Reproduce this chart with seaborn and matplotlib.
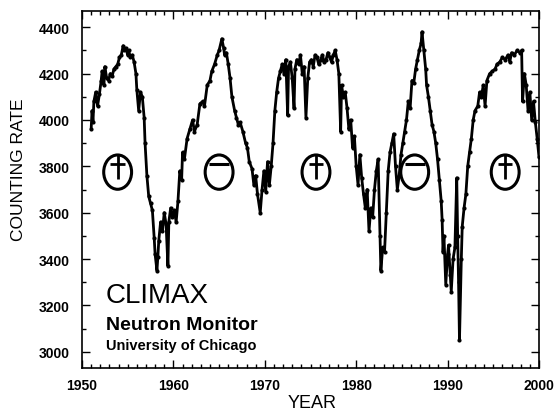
import numpy as np
import pandas as pd
import matplotlib
matplotlib.use("Agg")
import matplotlib.pyplot as plt
from matplotlib.patches import Ellipse
from matplotlib.ticker import MultipleLocator
import seaborn as sns

years = [
    1951.0, 1951.1, 1951.2, 1951.3, 1951.5, 1951.7, 1951.9, 1952.1, 1952.2, 1952.4,
    1952.5, 1952.7, 1952.9, 1953.1, 1953.3, 1953.5, 1953.7, 1953.9, 1954.1, 1954.3,
    1954.5, 1954.6, 1954.8, 1955.0, 1955.1, 1955.3, 1955.5, 1955.7, 1955.9, 1956.0,
    1956.2, 1956.4, 1956.6, 1956.8, 1956.9, 1957.1, 1957.3, 1957.5, 1957.7, 1957.9,
    1958.0, 1958.2, 1958.3, 1958.4, 1958.6, 1958.8, 1959.0, 1959.2, 1959.4, 1959.5,
    1959.7, 1959.9, 1960.1, 1960.3, 1960.5, 1960.7, 1960.9, 1961.0, 1961.2, 1961.5,
    1961.8, 1962.1, 1962.3, 1962.6, 1962.9, 1963.2, 1963.4, 1963.7, 1964.0, 1964.2,
    1964.5, 1964.8, 1965.0, 1965.3, 1965.5, 1965.6, 1965.8, 1966.0, 1966.2, 1966.4,
    1966.7, 1966.9, 1967.1, 1967.3, 1967.6, 1967.9, 1968.1, 1968.3, 1968.6, 1968.8,
    1969.0, 1969.2, 1969.5, 1969.7, 1969.9, 1970.1, 1970.3, 1970.5, 1970.7, 1970.9,
    1971.1, 1971.3, 1971.5, 1971.7, 1971.9, 1972.1, 1972.3, 1972.5, 1972.6, 1972.8,
    1973.0, 1973.2, 1973.3, 1973.5, 1973.7, 1973.9, 1974.1, 1974.3, 1974.5, 1974.7,
    1974.9, 1975.1, 1975.3, 1975.5, 1975.7, 1975.9, 1976.1, 1976.3, 1976.5, 1976.7,
    1976.9, 1977.1, 1977.3, 1977.5, 1977.7, 1977.9, 1978.1, 1978.3, 1978.4, 1978.6,
    1978.8, 1979.0, 1979.2, 1979.4, 1979.6, 1979.8, 1980.0, 1980.2, 1980.4, 1980.6,
    1980.8, 1981.0, 1981.2, 1981.4, 1981.6, 1981.8, 1982.0, 1982.2, 1982.4, 1982.6,
    1982.7, 1982.9, 1983.1, 1983.3, 1983.5, 1983.7, 1983.9, 1984.1, 1984.3, 1984.5,
    1984.7, 1984.9, 1985.1, 1985.3, 1985.5, 1985.7, 1985.9, 1986.1, 1986.3, 1986.5,
    1986.7, 1986.9, 1987.1, 1987.2, 1987.4, 1987.6, 1987.7, 1987.9, 1988.1, 1988.3,
    1988.5, 1988.7, 1988.9, 1989.1, 1989.3, 1989.4, 1989.5, 1989.6, 1989.8, 1990.0,
    1990.1, 1990.3, 1990.4, 1990.6, 1990.8, 1991.0, 1991.1, 1991.2, 1991.3, 1991.5,
    1991.6, 1991.8, 1992.0, 1992.2, 1992.4, 1992.6, 1992.8, 1993.0, 1993.3, 1993.5,
    1993.7, 1993.9, 1994.1, 1994.3, 1994.6, 1994.9, 1995.2, 1995.4, 1995.7, 1996.0,
    1996.3, 1996.6, 1996.8, 1997.0, 1997.3, 1997.6, 1997.9, 1998.1, 1998.2, 1998.4,
    1998.6, 1998.8, 1999.0, 1999.2, 1999.4, 1999.6, 1999.8, 2000.0,
]
counting_rate = [
    3960, 4040, 3990, 4080, 4120, 4060, 4110, 4170, 4210, 4150,
    4230, 4180, 4170, 4200, 4190, 4220, 4230, 4240, 4270, 4280,
    4320, 4300, 4310, 4280, 4300, 4270, 4280, 4250, 4200, 4130,
    4040, 4120, 4100, 4010, 3900, 3760, 3670, 3640, 3610, 3490,
    3420, 3350, 3410, 3480, 3560, 3520, 3600, 3550, 3370, 3560,
    3620, 3580, 3610, 3560, 3650, 3780, 3740, 3860, 3830, 3920,
    3960, 4000, 3950, 3980, 4070, 4080, 4060, 4150, 4170, 4210,
    4240, 4280, 4300, 4350, 4310, 4280, 4290, 4240, 4180, 4100,
    4040, 4010, 3980, 3990, 3950, 3900, 3880, 3820, 3790, 3720,
    3760, 3680, 3600, 3700, 3780, 3690, 3820, 3720, 3800, 3900,
    4040, 4120, 4180, 4210, 4240, 4200, 4260, 4020, 4230, 4250,
    4180, 4050, 4220, 4260, 4240, 4280, 4200, 4230, 4010, 4180,
    4250, 4260, 4230, 4280, 4270, 4240, 4260, 4280, 4250, 4260,
    4290, 4270, 4250, 4280, 4300, 4260, 4200, 3950, 4150, 4100,
    4120, 4050, 3960, 4000, 3880, 3930, 3800, 3720, 3850, 3750,
    3680, 3620, 3700, 3520, 3620, 3580, 3700, 3780, 3830, 3500,
    3350, 3450, 3430, 3600, 3780, 3860, 3900, 3940, 3800, 3700,
    3760, 3850, 3900, 3950, 4000, 4080, 4050, 4170, 4160, 4220,
    4260, 4300, 4330, 4380, 4300, 4220, 4150, 4100, 4040, 3980,
    3950, 3900, 3830, 3740, 3650, 3570, 3430, 3500, 3290, 3420,
    3460, 3330, 3260, 3400, 3450, 3750, 3500, 3300, 3050, 3400,
    3540, 3620, 3680, 3800, 3860, 3920, 4000, 4040, 4060, 4120,
    4100, 4150, 4060, 4170, 4200, 4210, 4220, 4240, 4250, 4270,
    4260, 4280, 4250, 4290, 4280, 4300, 4290, 4300, 4080, 4200,
    4150, 4040, 4120, 4000, 4080, 3990, 3920, 3840,
]

# Solar polarity symbols (year of centre, sign)
polarity_years = [1953.9, 1965.0, 1975.6, 1986.4, 1996.3]
polarity_signs = ["+", "-", "+", "-", "+"]

df = pd.DataFrame({"YEAR": years, "COUNTING RATE": counting_rate})

sns.set_style("ticks")
plt.rcParams["font.family"] = ["Liberation Sans", "DejaVu Sans"]
plt.rcParams["text.color"] = "black"
plt.rcParams["axes.labelcolor"] = "black"
plt.rcParams["xtick.color"] = "black"
plt.rcParams["ytick.color"] = "black"

fig = plt.figure(figsize=(5.56, 4.14), dpi=100)
ax = fig.add_axes([82 / 556, 1 - 369 / 414, (539 - 82) / 556, (369 - 12) / 414])

sns.lineplot(data=df, x="YEAR", y="COUNTING RATE", ax=ax, color="black",
             linewidth=2.0, marker="o", markersize=3.0, markeredgewidth=0,
             estimator=None, sort=False)

ax.set_xlim(1950, 2000)
ax.set_ylim(2930, 4470)
ax.xaxis.set_major_locator(MultipleLocator(10))
ax.xaxis.set_minor_locator(MultipleLocator(1))
ax.yaxis.set_major_locator(MultipleLocator(200))
ax.yaxis.set_minor_locator(MultipleLocator(100))
ax.tick_params(which="both", direction="in", top=True, right=True, color="black",
               width=1.0, labelcolor="black")
ax.tick_params(which="major", length=6)
ax.tick_params(which="minor", length=3)
ax.tick_params(axis="y", which="major", pad=9, labelsize=10)
ax.tick_params(axis="x", which="major", pad=7, labelsize=10)
for lab in ax.get_xticklabels() + ax.get_yticklabels():
    lab.set_fontweight("bold")
for sp in ax.spines.values():
    sp.set_linewidth(1.2)
    sp.set_color("black")

ax.set_xlabel("YEAR", fontsize=13, color="black")
ax.set_ylabel("COUNTING RATE", fontsize=12.5, color="black")
ax.xaxis.set_label_coords(0.503, -0.074)
ax.yaxis.set_label_coords(-0.122, 0.557)

# polarity symbols
cy = 3775
ew, eh = 3.05, 148
for px, sgn in zip(polarity_years, polarity_signs):
    ax.add_patch(Ellipse((px, cy), ew, eh, fill=False, edgecolor="black", linewidth=2.2, zorder=4))
    if sgn == "+":
        ax.plot([px - 0.8, px + 0.8], [cy + 33, cy + 33], color="black", lw=2.0, solid_capstyle="butt", zorder=4)
        ax.plot([px, px], [cy + eh / 2, cy - 28], color="black", lw=2.0, solid_capstyle="butt", zorder=4)
    else:
        ax.plot([px - 1.1, px + 1.1], [cy + 36, cy + 36], color="black", lw=2.2, solid_capstyle="butt", zorder=4)

ax.text(1952.6, 3215, "CLIMAX", fontsize=20, ha="left", va="baseline", color="black")
ax.text(1952.6, 3098, "Neutron Monitor", fontsize=14, fontweight="bold", ha="left", va="baseline", color="black")
ax.text(1952.6, 3012, "University of Chicago", fontsize=10.5, fontweight="bold", ha="left", va="baseline", color="black")

fig.savefig("out.png", dpi=100)
